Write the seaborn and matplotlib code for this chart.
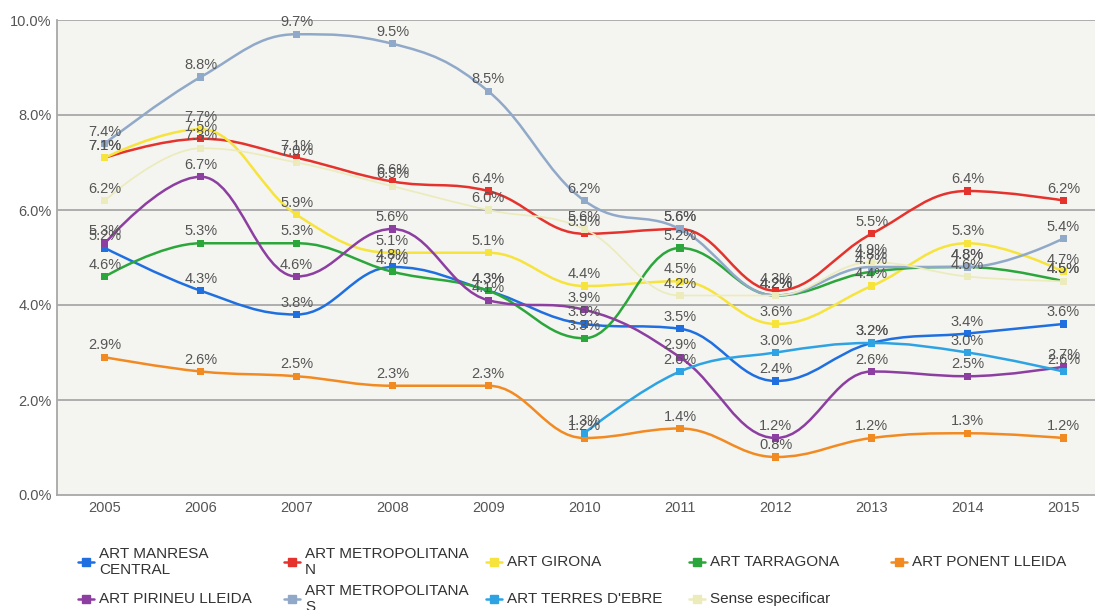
import numpy as np
import pandas as pd
import matplotlib
matplotlib.use("Agg")
import matplotlib.pyplot as plt
import seaborn as sns
from matplotlib.path import Path
from matplotlib.patches import PathPatch
from matplotlib.lines import Line2D

# Dades (percentatges llegits del gràfic)
anys = [2005, 2006, 2007, 2008, 2009, 2010, 2011, 2012, 2013, 2014, 2015]

series = ["ART MANRESA CENTRAL", "ART METROPOLITANA N", "ART GIRONA", "ART TARRAGONA",
          "ART PONENT LLEIDA", "ART PIRINEU LLEIDA", "ART METROPOLITANA S",
          "ART TERRES D'EBRE", "Sense especificar"]
etiquetes_llegenda = ["ART MANRESA\nCENTRAL", "ART METROPOLITANA\nN", "ART GIRONA", "ART TARRAGONA",
                      "ART PONENT LLEIDA", "ART PIRINEU LLEIDA", "ART METROPOLITANA\nS",
                      "ART TERRES D'EBRE", "Sense especificar"]

manresa = [5.2, 4.3, 3.8, 4.8, 4.3, 3.6, 3.5, 2.4, 3.2, 3.4, 3.6]
metro_n = [7.1, 7.5, 7.1, 6.6, 6.4, 5.5, 5.6, 4.3, 5.5, 6.4, 6.2]
girona = [7.1, 7.7, 5.9, 5.1, 5.1, 4.4, 4.5, 3.6, 4.4, 5.3, 4.7]
tarragona = [4.6, 5.3, 5.3, 4.7, 4.3, 3.3, 5.2, 4.2, 4.7, 4.8, 4.5]
ponent = [2.9, 2.6, 2.5, 2.3, 2.3, 1.2, 1.4, 0.8, 1.2, 1.3, 1.2]
pirineu = [5.3, 6.7, 4.6, 5.6, 4.1, 3.9, 2.9, 1.2, 2.6, 2.5, 2.7]
metro_s = [7.4, 8.8, 9.7, 9.5, 8.5, 6.2, 5.6, 4.2, 4.8, 4.8, 5.4]
terres = [np.nan, np.nan, np.nan, np.nan, np.nan, 1.3, 2.6, 3.0, 3.2, 3.0, 2.6]
sense = [6.2, 7.3, 7.0, 6.5, 6.0, 5.6, 4.2, 4.2, 4.9, 4.6, 4.5]

colors = ["#1f6fe0", "#e5322d", "#f6e43c", "#2ba63b", "#f28a22",
          "#8d3ea1", "#90a9c9", "#2da3e3", "#ecebbb"]

valors = [manresa, metro_n, girona, tarragona, ponent, pirineu, metro_s, terres, sense]

df = pd.DataFrame({
    "Any": np.tile(anys, len(series)),
    "Serie": np.repeat(series, len(anys)),
    "Valor": np.concatenate(valors),
}).dropna()


def spline_path(xs, ys, smoothing=1.5):
    # corba suau tipus "spline" (punts de control a partir de les dades)
    n = len(xs)
    left = [None] * n
    right = [None] * n
    d = smoothing + 1
    for i in range(n):
        if i == 0 or i == n - 1:
            left[i] = right[i] = (xs[i], ys[i])
            continue
        lx, ly = xs[i - 1], ys[i - 1]
        px, py = xs[i], ys[i]
        nx, ny = xs[i + 1], ys[i + 1]
        lcx = (smoothing * px + lx) / d
        lcy = (smoothing * py + ly) / d
        rcx = (smoothing * px + nx) / d
        rcy = (smoothing * py + ny) / d
        corr = ((rcy - lcy) * (rcx - px)) / (rcx - lcx) + py - rcy
        lcy += corr
        rcy += corr
        if lcy > ly and lcy > py:
            lcy = max(ly, py)
            rcy = 2 * py - lcy
        elif lcy < ly and lcy < py:
            lcy = min(ly, py)
            rcy = 2 * py - lcy
        if rcy > ny and rcy > py:
            rcy = max(ny, py)
            lcy = 2 * py - rcy
        elif rcy < ny and rcy < py:
            rcy = min(ny, py)
            lcy = 2 * py - rcy
        left[i] = (lcx, lcy)
        right[i] = (rcx, rcy)
    verts = [(xs[0], ys[0])]
    codes = [Path.MOVETO]
    for i in range(1, n):
        verts += [right[i - 1], left[i], (xs[i], ys[i])]
        codes += [Path.CURVE4] * 3
    return Path(verts, codes)


sns.set_style("white")
plt.rcParams["font.family"] = ["Liberation Sans", "DejaVu Sans"]

fig = plt.figure(figsize=(10.95, 6.1), dpi=100)
ax = fig.add_axes([57 / 1095, 115 / 610, 1 - 57 / 1095, 475 / 610])
ax.set_facecolor("#f4f4f0")

# Línies suaus
for i, nom in enumerate(series):
    d = df[df["Serie"] == nom]
    lw = 1.2 if nom == "Sense especificar" else 1.8
    ax.add_patch(PathPatch(spline_path(d["Any"].tolist(), d["Valor"].tolist()),
                           fill=False, edgecolor=colors[i], lw=lw, zorder=3 + i * 0.01))

# Marcadors
sns.scatterplot(data=df, x="Any", y="Valor", hue="Serie", hue_order=series,
                palette=colors, marker="s", s=26, linewidth=0, legend=False,
                ax=ax, zorder=4)

# Etiquetes de dades
for _, r in df.iterrows():
    ax.annotate(f"{r['Valor']:.1f}%", (r["Any"], r["Valor"]), xytext=(0, 3.5),
                textcoords="offset points", ha="center", va="bottom",
                fontsize=10.5, color="#555555", zorder=6)

ax.set_xlim(2004.5, 2015.33)
ax.set_ylim(0, 10)
ax.set_xticks(anys)
ax.set_yticks([0, 2, 4, 6, 8, 10])
ax.set_yticklabels([f"{v:.1f}%" for v in [0, 2, 4, 6, 8, 10]])
ax.tick_params(axis="both", length=0, labelsize=10.5, labelcolor="#555555", pad=4)
ax.set_xlabel("")
ax.set_ylabel("")
for v in [2, 4, 6, 8, 10]:
    ax.axhline(v, color="#a8a8a8", lw=1.3, zorder=1)
for s in ["top", "right"]:
    ax.spines[s].set_visible(False)
ax.spines["left"].set_color("#a8a8a8")
ax.spines["bottom"].set_color("#a8a8a8")
ax.spines["left"].set_linewidth(1.3)
ax.spines["bottom"].set_linewidth(1.3)

# Llegenda manual (2 files)
col_x = [86, 292, 494, 697, 899]
fila_y = [562, 599]
for i, nom in enumerate(etiquetes_llegenda):
    fila, col = divmod(i, 5)
    x = col_x[col]
    y = fila_y[fila]
    fx, fy = x / 1095, 1 - y / 610
    fig.add_artist(Line2D([fx - 8 / 1095, fx + 8 / 1095], [fy, fy], color=colors[i], lw=1.8,
                          transform=fig.transFigure))
    fig.add_artist(Line2D([fx], [fy], marker="s", markersize=6, color=colors[i], lw=0,
                          transform=fig.transFigure))
    fig.text(fx + 13 / 1095, fy, nom, ha="left", va="center", fontsize=11,
             color="#333333", linespacing=1.2)

fig.savefig("out.png", dpi=100)
